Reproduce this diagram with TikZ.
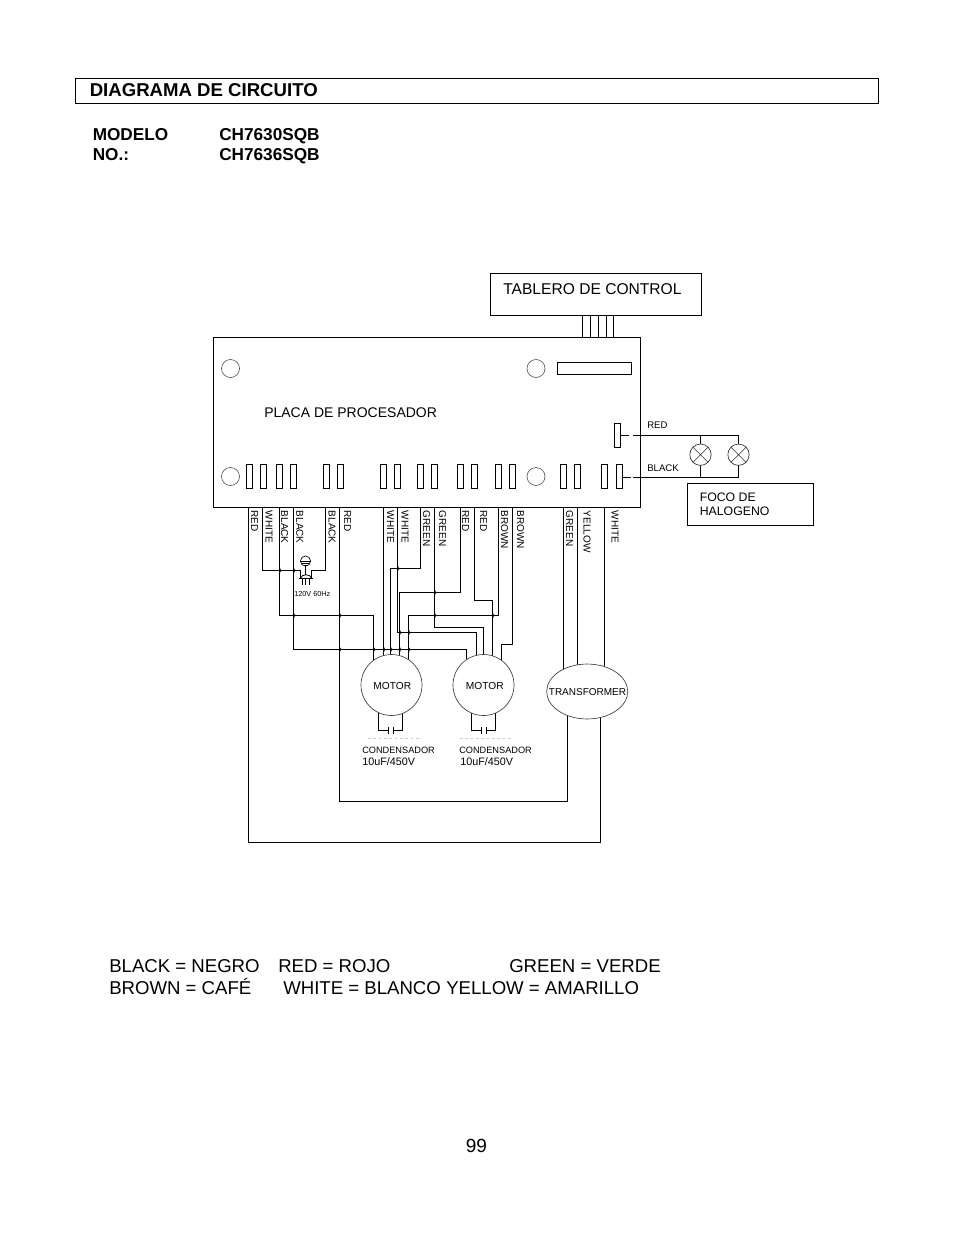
\documentclass[tikz,border=0pt]{standalone}
\usepackage{fontspec}
\setmainfont{Liberation Sans}
\usetikzlibrary{shapes.geometric,backgrounds}
\newcommand{\fpx}[1]{\fontsize{\dimexpr#1pt*3/4\relax}{\dimexpr#1pt\relax}\selectfont}
\tikzset{
  wire/.style={line width=.75pt,black},
  box/.style={draw,line width=.75pt,inner sep=0pt,outer sep=0pt,rectangle},
  pin/.style={box,minimum width=4.5pt,minimum height=18pt},
  hole/.style={draw=black!70,line width=.45pt,circle,inner sep=0pt,minimum size=13.5pt},
  motor/.style={draw=black!75,fill=white,line width=.5pt,circle,inner sep=0pt,outer sep=0pt,minimum size=45.75pt},
  mtext/.style={inner sep=0pt,font=\fpx{10.2}},
  trans/.style={draw=black!75,fill=white,line width=.5pt,ellipse,inner sep=0pt,outer sep=0pt,minimum width=60.8pt,minimum height=41.2pt},
  lamp/.style={draw=black!80,fill=white,line width=.5pt,circle,inner sep=0pt,outer sep=0pt,minimum size=16pt},
  txt/.style={anchor=base west,inner sep=0pt},
  big/.style={txt,font=\fpx{18.6}},
  head/.style={txt,font=\bfseries\fpx{18.6}},
  sub/.style={txt,font=\bfseries\fpx{17.2}},
  wlabel/.style={rotate=-90,anchor=west,inner sep=0pt,font=\fpx{10}}
}
\newcommand{\wirehv}[4]{\coordinate (tmp) at (#3,#2); \draw[wire] (#1) |- (tmp) -- (tmp |- #4.center);}
\begin{document}
\begin{tikzpicture}[x=.75pt,y=-.75pt]
\useasboundingbox (0,0) rectangle (954,1235);
\begin{scope}[on background layer]
\fill[white] (0,0) rectangle (954,1235);
\end{scope}
% header
\node[box,minimum width=602.25pt,minimum height=18.75pt,anchor=north west] (hdr) at (75.5,78.5) {};
\node[head] (title) at (89.5,96) {DIAGRAMA DE CIRCUITO};
\node[sub] (mod) at (92.5,140) {MODELO};
\node[sub] (no) at (92.5,160) {NO.:};
\node[sub] (ch1) at (219,140) {CH7630SQB};
\node[sub] (ch2) at (219,160) {CH7636SQB};
% control panel and board
\node[box,minimum width=158.25pt,minimum height=31.5pt,anchor=north west] (panel) at (490.5,273.5) {};
\node[txt,font=\fpx{15.6}] (paneltxt) at (503,294) {TABLERO DE CONTROL};
\node[box,minimum width=320.25pt,minimum height=127.5pt,anchor=north west] (board) at (213.5,337.5) {};
\node[txt,font=\fpx{14}] (boardtxt) at (264,417) {PLACA DE PROCESADOR};
\foreach \n/\x in {a/582.5,b/590.5,c/598.5,d/606.5,e/613.5}{
  \coordinate (cp\n) at (\x,315.5);
  \draw[wire] (cp\n) -- (cp\n |- board.north);
}
% board parts
\node[hole] (h1) at (230.5,368.5) {};
\node[hole] (h2) at (536,368.5) {};
\node[hole] (h3) at (230.5,476.5) {};
\node[hole] (h4) at (536,476.5) {};
\node[box,minimum width=55.5pt,minimum height=9pt] (disp) at (594.5,368.5) {};
\node[pin] (rpin) at (617.5,435.5) {};
\foreach \i/\x in {1/249.5,2/263.5,3/279.5,4/293.5,5/326.5,6/340.5,7/383.5,8/397.5,9/420.5,10/434.5,11/460.5,12/474.5,13/498.5,14/512.5,15/563.5,16/577.5,17/604.5,18/619.5}{
  \node[pin] (p\i) at (\x,476.5) {};
}
% motors, transformer, lamps
\node[motor] (m1) at (391.5,685) {};
\node[motor] (m2) at (483.5,685) {};
\node[mtext] (m1txt) at (392.3,686) {MOTOR};
\node[mtext] (m2txt) at (484.8,686) {MOTOR};
\node[trans] (tr) at (587.2,691.5) {};
\node[inner sep=0pt,font=\fpx{10}] (trtxt) at (587.5,692) {TRANSFORMER};
\node[lamp] (l1) at (700.5,454.7) {};
\node[lamp] (l2) at (738.5,454.7) {};
\foreach \l in {l1,l2}{
  \draw[black!80,line width=.4pt] (\l.45) -- (\l.225) (\l.135) -- (\l.315);
}
\node[box,minimum width=94.5pt,minimum height=31.5pt,anchor=north west] (foco) at (687.5,483.5) {};
\node[txt,font=\fpx{12.3}] (foco1) at (699.5,501) {FOCO DE};
\node[txt,font=\fpx{12.3}] (foco2) at (699.5,515) {HALOGENO};
\node[txt,font=\fpx{9.6}] (lred) at (647,428) {RED};
\node[txt,font=\fpx{9.6}] (lblack) at (647,471) {BLACK};
% lamp wiring
\coordinate (rc) at (632.5,435.5);
\coordinate (bc) at (632.5,477.5);
\draw[wire] (rpin.east |- rc) -- ++(8.7,0);
\draw[wire] (p18.east |- bc) -- ++(8.7,0);
\begin{scope}[on background layer]
\draw[wire] (rc) -| (l2.center);
\draw[wire] (bc) -| (l2.center);
\draw[wire] (l1.center |- rc) -- (l1.center) -- (l1.center |- bc);
% board wires
\foreach \n/\x in {1/248.5,2/262.5,3/279.5,4/293.5,5/325.5,6/339.5,7/383.5,8/397.5,9/420.5,10/434.5,11/460.5,12/474.5,13/498.5,14/512.5,15/563.5,16/577.5,17/604.5}{
  \coordinate (w\n) at (\x,507.5);
}
\coordinate (c1) at (600.5,842.5);
\draw[wire] (w1) |- (c1) -- (c1 |- tr.center);
\coordinate (c6) at (567.5,801.5);
\draw[wire] (w6) |- (c6) -- (c6 |- tr.center);
\wirehv{w3}{615.5}{373.5}{m1}
\wirehv{w4}{649.5}{466.5}{m2}
\draw[wire] (w7) -- (w7 |- m1.center);
\wirehv{w8}{632.5}{476.5}{m2}
\wirehv{w9}{568.5}{390.5}{m1}
\wirehv{w10}{627.5}{483.5}{m2}
\wirehv{w11}{592.5}{399.5}{m1}
\wirehv{w12}{600.5}{492.5}{m2}
\wirehv{w13}{615.5}{408.5}{m1}
\wirehv{w14}{644.5}{501.5}{m2}
\draw[wire] (w15) -- (w15 |- tr.center);
\draw[wire] (w16) -- (w16 |- tr.center);
\draw[wire] (w17) -- (w17 |- tr.center);
% capacitors
\foreach \m/\a/\b/\c/\d in {m1/378.5/388.5/393.5/402.5,m2/471.5/481.5/486.5/495.5}{
  \coordinate (ca) at (\a,730.5); \coordinate (cb) at (\b,730.5);
  \coordinate (cc) at (\c,730.5); \coordinate (cd) at (\d,730.5);
  \draw[wire] (ca |- \m.center) -- (ca) -- (cb) ++(0,-3.3) -- ++(0,6.6);
  \draw[wire] (cd |- \m.center) -- (cd) -- (cc) ++(0,-3.3) -- ++(0,6.6);
}
\end{scope}
% plug with ground
\node[draw,circle,line width=.5pt,inner sep=0pt,outer sep=0pt,minimum size=7.6pt] (gnd) at (305.5,561) {};
\draw[line width=.5pt] (gnd.west) -- (gnd.east) (302,563) -- (309,563) (303.5,565) -- (307.5,565);
\coordinate (pa) at (300.5,570.5); \coordinate (pb) at (311.5,570.5);
\coordinate (pl) at (300.5,578.5); \coordinate (pr) at (311.5,578.5);
\draw[line width=.6pt] (gnd.south) -- (305.5,575);
\draw[line width=.6pt] (pl) .. controls (301,573.5) and (311,573.5) .. (pr);
\draw[wire] (w2) |- (pa) -- (pl);
\draw[wire] (w5) |- (pb) -- (pr);
\draw[line width=.75pt] (299,578.5) -- (312.5,578.5);
\draw[line width=.6pt] (302,579) -- (302,585) (305.5,579) -- (305.5,585) (309.5,579) -- (309.5,585);
\node[txt,font=\fpx{7.3}] (volt) at (294,596) {120V 60Hz};
% hops
\foreach \x/\y in {279.5/570.5,293.5/570.5,293.5/615.5,339.5/615.5,339.5/649.5,373.5/649.5,383.5/649.5,390.5/649.5,399.5/649.5,408.5/649.5,399.5/632.5,408.5/632.5,397.5/568.5,434.5/592.5,434.5/615.5,492.5/615.5}{
  \draw[line width=.35pt] (\x,\y-2.5) .. controls (\x+2.4,\y-1) and (\x+2.4,\y+1) .. (\x,\y+2.5);
}
% wire labels
\foreach \x/\t in {254.5/RED,269/WHITE,284.5/BLACK,299.8/BLACK,332/BLACK,347.5/RED,390.5/WHITE,405/WHITE,426.5/GREEN,442.5/GREEN,465.5/RED,483.5/RED,504.5/BROWN,520.5/BROWN,569.5/GREEN,587/YELLOW,615/WHITE}{
  \node[wlabel] at (\x,510.5) {\t};
}
% condenser labels
\node[txt,font=\fpx{9.2}] (cn1) at (362,753) {CONDENSADOR};
\node[txt,font=\fpx{9.2}] (cn2) at (459,753) {CONDENSADOR};
\node[txt,font=\fpx{10.8}] (cv1) at (362,765) {10uF/450V};
\node[txt,font=\fpx{10.8}] (cv2) at (460,765) {10uF/450V};
\draw[black!20,line width=.4pt,dash pattern=on 2pt off 2pt] (368,738) -- (422,738) (460,738) -- (513,738);
% legend
\node[big] (t1) at (109,972) {BLACK = NEGRO};
\node[big] (t2) at (278,972) {RED = ROJO};
\node[big] (t3) at (509,972) {GREEN = VERDE};
\node[big] (t4) at (109,994) {BROWN = CAFÉ};
\node[big] (t5) at (283,994) {WHITE = BLANCO};
\node[big] (t6) at (446,994) {YELLOW = AMARILLO};
\node[txt,font=\fpx{19}] (pg) at (465.5,1152) {99};
\end{tikzpicture}
\end{document}
